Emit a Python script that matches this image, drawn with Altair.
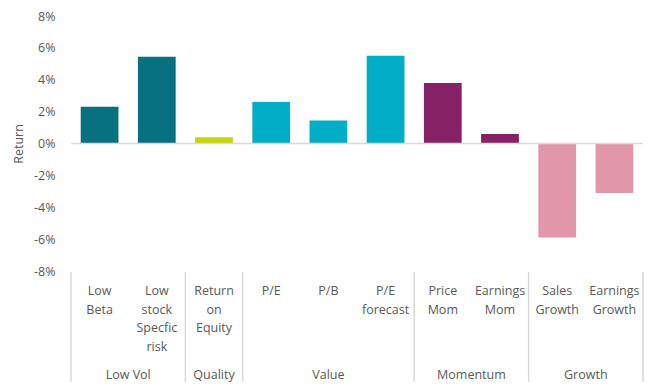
import altair as alt
import pandas as pd

categories = ["Low Beta", "Low stock Specfic risk", "Return on Equity", "P/E", "P/B",
              "P/E forecast", "Price Mom", "Earnings Mom", "Sales Growth", "Earnings Growth"]
label_lines = ["Low\nBeta", "Low\nstock\nSpecfic\nrisk", "Return\non\nEquity", "P/E", "P/B",
               "P/E\nforecast", "Price\nMom", "Earnings\nMom", "Sales\nGrowth", "Earnings\nGrowth"]
groups = ["Low Vol", "Low Vol", "Quality", "Value", "Value", "Value",
          "Momentum", "Momentum", "Growth", "Growth"]
returns = [0.023, 0.0545, 0.004, 0.026, 0.0145, 0.055, 0.038, 0.006, -0.059, -0.031]
tick_values = [-0.08, -0.06, -0.04, -0.02, 0.0, 0.02, 0.04, 0.06, 0.08]

group_colors = {"Low Vol": "#07717F", "Quality": "#C4D600", "Value": "#00AFC7",
                "Momentum": "#862165", "Growth": "#E196AA"}

df = pd.DataFrame({
    "cat": categories,
    "label": label_lines,
    "group": groups,
    "ret": returns,
    "idx": list(range(len(categories))),
})

TXT = "#595959"
FONT = "Open Sans"
FS = 12.5
n = len(categories)
W, H = 572, 255
xscale = alt.Scale(domain=[0, n], nice=False, zero=False)
yscale = alt.Scale(domain=[-0.08, 0.08], nice=False)

yaxis = alt.Axis(values=tick_values,
                 labelExpr="round(datum.value*100) + '%'",
                 labelOverlap=False, labelBound=False, labelFlush=False,
                 grid=False, domain=False, ticks=False, labelPadding=16,
                 labelColor=TXT, labelFontSize=FS, labelFont=FONT,
                 title="Return", titleColor=TXT, titleFontSize=FS,
                 titleFont=FONT, titleFontWeight="normal",
                 titleX=-53, titleY=H / 2, titleBaseline="middle")

base = alt.Chart(df)

bars = base.transform_calculate(
    x0="datum.idx + 0.17", x1="datum.idx + 0.83"
).mark_bar().encode(
    x=alt.X("x0:Q", scale=xscale, axis=None),
    x2="x1:Q",
    y=alt.Y("ret:Q", scale=yscale, axis=yaxis, title="Return"),
    y2=alt.datum(0),
    color=alt.Color("group:N",
                    scale=alt.Scale(domain=list(group_colors.keys()),
                                    range=list(group_colors.values())),
                    legend=None),
)

zero = base.transform_aggregate(count="count()").transform_calculate(z="0").mark_rule(
    color="#D9D9D9", strokeWidth=1.5
).encode(
    y=alt.Y("z:Q", scale=yscale, axis=yaxis, title="Return"),
    x=alt.value(0), x2=alt.value(W),
)

cat_labels = base.transform_calculate(
    xc="datum.idx + 0.5"
).mark_text(
    baseline="top", align="center", lineBreak="\n", lineHeight=18.7,
    fontSize=FS, font=FONT, color=TXT
).encode(
    x=alt.X("xc:Q", scale=xscale, axis=None),
    y=alt.value(H + 14),
    text="label:N",
)

grp = base.transform_aggregate(
    lo="min(idx)", hi="max(idx)", groupby=["group"]
).transform_calculate(
    gc="(datum.lo + datum.hi + 1) / 2"
)

group_labels = grp.mark_text(
    baseline="middle", align="center", fontSize=FS, font=FONT, color=TXT
).encode(
    x=alt.X("gc:Q", scale=xscale, axis=None),
    y=alt.value(H + 104),
    text="group:N",
)

sep_start = grp.mark_rule(color="#D9D9D9", strokeWidth=1.5).encode(
    x=alt.X("lo:Q", scale=xscale, axis=None),
    y=alt.value(H + 1), y2=alt.value(H + 111),
)
sep_end = base.transform_aggregate(last="max(idx)").transform_calculate(
    e="datum.last + 1"
).mark_rule(color="#D9D9D9", strokeWidth=1.5).encode(
    x=alt.X("e:Q", scale=xscale, axis=None),
    y=alt.value(H + 1), y2=alt.value(H + 111),
)

chart = alt.layer(bars, zero, cat_labels, group_labels, sep_start, sep_end).properties(
    width=W, height=H,
    autosize=alt.AutoSizeParams(type="none"),
    padding={"left": 63, "top": 8, "right": 3, "bottom": 112},
).configure_view(stroke=None).configure_axis(labelOverlap=False)

chart.save("out.html", embed_options={"renderer": "svg", "actions": False})
